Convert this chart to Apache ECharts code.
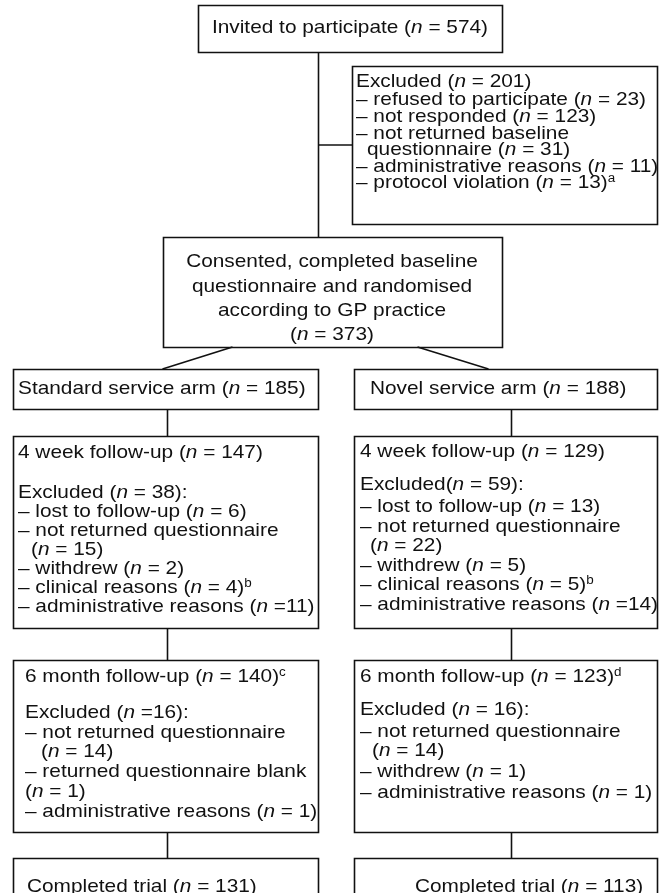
<!DOCTYPE html>
<html>
<head>
<meta charset="utf-8">
<script src="https://cdn.jsdelivr.net/npm/echarts@6/dist/echarts.min.js"></script>
<style>
html,body{margin:0;padding:0;background:#fff;}
#chart{width:659px;height:893px;}
</style>
</head>
<body>
<div id="chart"></div>
<script>
// ---- Flow-chart content (text of each box, one entry per line) ----
const invitedLines = ['Invited to participate ({i|n} = 574)'];
const excludedLines = [
  'Excluded ({i|n} = 201)',
  '– refused to participate ({i|n} = 23)',
  '– not responded ({i|n} = 123)',
  '– not returned baseline',
  'questionnaire ({i|n} = 31)',
  '– administrative reasons ({i|n} = 11)',
  '– protocol violation ({i|n} = 13){s|a}'
];
const consentLines = [
  'Consented, completed baseline',
  'questionnaire and randomised',
  'according to GP practice',
  '({i|n} = 373)'
];
const standardArmLines = ['Standard service arm ({i|n} = 185)'];
const novelArmLines = ['Novel service arm ({i|n} = 188)'];
const standard4wLines = [
  '4 week follow-up ({i|n} = 147)',
  'Excluded ({i|n} = 38):',
  '– lost to follow-up ({i|n} = 6)',
  '– not returned questionnaire',
  '({i|n} = 15)',
  '– withdrew ({i|n} = 2)',
  '– clinical reasons ({i|n} = 4){s|b}',
  '– administrative reasons ({i|n} =11)'
];
const novel4wLines = [
  '4 week follow-up ({i|n} = 129)',
  'Excluded({i|n} = 59):',
  '– lost to follow-up ({i|n} = 13)',
  '– not returned questionnaire',
  '({i|n} = 22)',
  '– withdrew ({i|n} = 5)',
  '– clinical reasons ({i|n} = 5){s|b}',
  '– administrative reasons ({i|n} =14)'
];
const standard6mLines = [
  '6 month follow-up ({i|n} = 140){s|c}',
  'Excluded ({i|n} =16):',
  '– not returned questionnaire',
  '({i|n} = 14)',
  '– returned questionnaire blank',
  '({i|n} = 1)',
  '– administrative reasons ({i|n} = 1)'
];
const novel6mLines = [
  '6 month follow-up ({i|n} = 123){s|d}',
  'Excluded ({i|n} = 16):',
  '– not returned questionnaire',
  '({i|n} = 14)',
  '– withdrew ({i|n} = 1)',
  '– administrative reasons ({i|n} = 1)'
];
const standardDoneLines = ['Completed trial ({i|n} = 131)'];
const novelDoneLines = ['Completed trial ({i|n} = 113)'];

// ---- Layout (diagram coordinates, drawn through hidden value axes) ----
const boxRects = [
  [198, 5, 502, 52],     // invited
  [352, 66, 657, 224],   // excluded
  [163, 237, 502, 347],  // consented
  [13, 369, 318, 409],   // standard arm
  [354, 369, 657, 409],  // novel arm
  [13, 436, 318, 628],   // standard 4 week
  [354, 436, 657, 628],  // novel 4 week
  [13, 660, 318, 832],   // standard 6 month
  [354, 660, 657, 832],  // novel 6 month
  [13, 858, 318, 900],   // standard completed
  [354, 858, 657, 900]   // novel completed
];
const connectors = [
  [318, 52, 318, 237],
  [318, 145, 352, 145],
  [232, 347, 162, 369],
  [417, 347, 488, 369],
  [167, 409, 167, 436],
  [511, 409, 511, 436],
  [167, 628, 167, 660],
  [511, 628, 511, 660],
  [167, 832, 167, 858],
  [511, 832, 511, 858]
];
// per-line anchors: [x, y, align]
const invitedPos = [[350, 28, 'center']];
const excludedPos = [[356, 82], [356, 100], [356, 117], [356, 134], [367, 150], [356, 167], [356, 183]];
const consentPos = [[332, 262, 'center'], [332, 287, 'center'], [332, 311, 'center'], [332, 335, 'center']];
const standardArmPos = [[18, 389]];
const novelArmPos = [[370, 389]];
const standard4wPos = [[18, 453], [18, 493], [18, 512], [18, 531], [31, 550], [18, 569], [18, 588], [18, 607]];
const novel4wPos = [[360, 452], [360, 485], [360, 507], [360, 527], [370, 546], [360, 566], [360, 585], [360, 605]];
const standard6mPos = [[25, 677], [25, 713], [25, 733], [41, 752], [25, 772], [25, 792], [25, 812]];
const novel6mPos = [[360, 677], [360, 710], [360, 732], [372, 751], [360, 772], [360, 793]];
const standardDonePos = [[27, 887]];
const novelDonePos = [[415, 887]];

const textGroups = [
  [invitedLines, invitedPos], [excludedLines, excludedPos], [consentLines, consentPos],
  [standardArmLines, standardArmPos], [novelArmLines, novelArmPos],
  [standard4wLines, standard4wPos], [novel4wLines, novel4wPos],
  [standard6mLines, standard6mPos], [novel6mLines, novel6mPos],
  [standardDoneLines, standardDonePos], [novelDoneLines, novelDonePos]
];
const textItems = [];
textGroups.forEach(([lines, pos]) => {
  lines.forEach((t, k) => textItems.push({ value: [pos[k][0], pos[k][1]], text: t, align: pos[k][2] || 'left' }));
});

const FONT = '"Liberation Sans", Arial, Helvetica, sans-serif';
const FS = 18.6;
const SX = 1.12;
const INK = '#111';
const LW = 1.6;

const chart = echarts.init(document.getElementById('chart'), null, { renderer: 'canvas' });
chart.setOption({
  animation: false,
  backgroundColor: '#fff',
  grid: { left: 0, right: 0, top: 0, bottom: 0 },
  xAxis: { type: 'value', min: 0, max: 659, show: false },
  yAxis: { type: 'value', min: 0, max: 893, inverse: true, show: false },
  series: [
    {
      type: 'custom', silent: true, clip: false,
      data: boxRects,
      renderItem: function (params, api) {
        const p1 = api.coord([api.value(0), api.value(1)]);
        const p2 = api.coord([api.value(2), api.value(3)]);
        return {
          type: 'rect',
          shape: { x: Math.round(p1[0]) + 0.5, y: Math.round(p1[1]) + 0.5, width: Math.round(p2[0] - p1[0]), height: Math.round(p2[1] - p1[1]) },
          style: { fill: '#fff', stroke: INK, lineWidth: LW }
        };
      }
    },
    {
      type: 'custom', silent: true, clip: false,
      data: connectors,
      renderItem: function (params, api) {
        const p1 = api.coord([api.value(0), api.value(1)]);
        const p2 = api.coord([api.value(2), api.value(3)]);
        return {
          type: 'line',
          shape: { x1: Math.round(p1[0]) + 0.5, y1: p1[1], x2: Math.round(p2[0]) + 0.5, y2: p2[1] },
          style: { stroke: INK, lineWidth: LW }
        };
      }
    },
    {
      type: 'custom', silent: true, clip: false,
      data: textItems,
      renderItem: function (params, api) {
        const item = textItems[params.dataIndex];
        const p = api.coord([api.value(0), api.value(1)]);
        return {
          type: 'text',
          x: p[0], y: p[1], scaleX: SX, scaleY: 1,
          style: {
            x: 0, y: 0, text: item.text,
            align: item.align, verticalAlign: 'middle',
            fontFamily: FONT, fontSize: FS, fill: INK, lineHeight: 20,
            rich: {
              i: { fontFamily: FONT, fontSize: FS, fontStyle: 'italic', fill: INK, lineHeight: 20 },
              s: { fontFamily: FONT, fontSize: 12, fill: INK, lineHeight: 11, verticalAlign: 'top' }
            }
          }
        };
      }
    }
  ]
});
</script>
</body>
</html>
